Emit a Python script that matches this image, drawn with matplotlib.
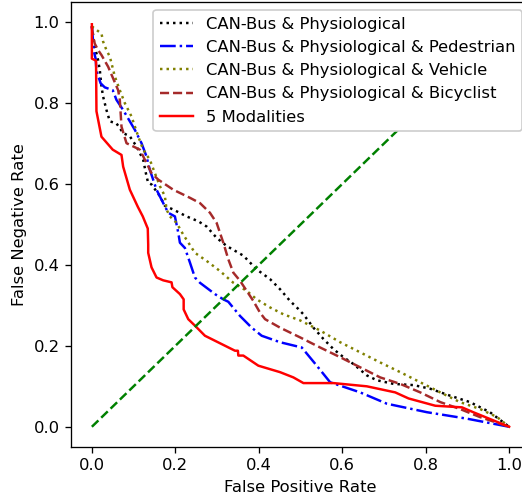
import matplotlib
matplotlib.use("Agg")
import matplotlib.pyplot as plt

# CAN-Bus & Physiological
fpr_cp = [0.0, 0.003, 0.007, 0.011, 0.015, 0.019, 0.023, 0.027, 0.035, 0.043, 0.059, 0.075, 0.091, 0.107,
          0.123, 0.131, 0.135, 0.143, 0.163, 0.175, 0.195, 0.227, 0.255, 0.275, 0.299, 0.323, 0.363,
          0.395, 0.427, 0.451, 0.475, 0.495, 0.507, 0.531, 0.555, 0.579, 0.603, 0.627, 0.659, 0.683,
          0.723, 0.771, 0.811, 0.858, 0.906, 0.954, 1.0]
fnr_cp = [0.99, 0.968, 0.94, 0.923, 0.906, 0.882, 0.841, 0.816, 0.783, 0.755, 0.75, 0.726, 0.718, 0.693,
          0.66, 0.619, 0.603, 0.599, 0.57, 0.546, 0.537, 0.52, 0.508, 0.495, 0.467, 0.447, 0.423,
          0.389, 0.365, 0.34, 0.311, 0.291, 0.278, 0.245, 0.217, 0.192, 0.172, 0.155, 0.127, 0.115,
          0.106, 0.103, 0.094, 0.077, 0.061, 0.036, 0.0]

# CAN-Bus & Physiological & Pedestrian
fpr_ped = [0.0, 0.005, 0.009, 0.011, 0.021, 0.031, 0.05, 0.059, 0.075, 0.103, 0.119, 0.131, 0.139, 0.155,
           0.171, 0.183, 0.199, 0.203, 0.207, 0.211, 0.223, 0.235, 0.247, 0.259, 0.295, 0.315, 0.327,
           0.355, 0.383, 0.407, 0.451, 0.503, 0.539, 0.571, 0.643, 0.707, 0.803, 0.899, 1.0]
fnr_ped = [0.99, 0.927, 0.91, 0.88, 0.849, 0.839, 0.832, 0.808, 0.783, 0.734, 0.701, 0.668, 0.635, 0.586,
           0.553, 0.529, 0.52, 0.5, 0.48, 0.455, 0.442, 0.406, 0.369, 0.356, 0.328, 0.315, 0.309,
           0.274, 0.245, 0.225, 0.209, 0.196, 0.151, 0.11, 0.085, 0.057, 0.036, 0.02, 0.0]

# CAN-Bus & Physiological & Vehicle
fpr_veh = [0.0, 0.007, 0.023, 0.027, 0.035, 0.043, 0.047, 0.055, 0.067, 0.079, 0.095, 0.111, 0.123, 0.139,
           0.151, 0.163, 0.175, 0.179, 0.187, 0.203, 0.219, 0.247, 0.275, 0.307, 0.339, 0.371, 0.395,
           0.427, 0.459, 0.499, 0.547, 0.595, 0.643, 0.691, 0.739, 0.787, 0.835, 0.882, 0.93, 0.971, 1.0]
fnr_veh = [0.99, 0.984, 0.972, 0.952, 0.931, 0.915, 0.899, 0.866, 0.832, 0.8, 0.767, 0.718, 0.685, 0.66,
           0.627, 0.595, 0.57, 0.537, 0.52, 0.504, 0.475, 0.43, 0.41, 0.385, 0.356, 0.336, 0.315,
           0.295, 0.278, 0.263, 0.238, 0.209, 0.184, 0.159, 0.135, 0.11, 0.085, 0.061, 0.044, 0.024, 0.0]

# CAN-Bus & Physiological & Bicyclist
fpr_bic = [0.0, 0.003, 0.007, 0.015, 0.023, 0.039, 0.051, 0.063, 0.067, 0.071, 0.083, 0.099, 0.115, 0.131,
           0.143, 0.159, 0.195, 0.235, 0.259, 0.283, 0.299, 0.315, 0.327, 0.339, 0.355, 0.371, 0.387,
           0.403, 0.415, 0.451, 0.499, 0.547, 0.595, 0.643, 0.691, 0.739, 0.787, 0.835, 0.882, 0.93, 1.0]
fnr_bic = [0.99, 0.964, 0.947, 0.931, 0.919, 0.89, 0.861, 0.832, 0.808, 0.742, 0.701, 0.693, 0.685, 0.652,
           0.627, 0.611, 0.586, 0.566, 0.553, 0.529, 0.504, 0.455, 0.414, 0.381, 0.361, 0.336, 0.311,
           0.282, 0.266, 0.245, 0.221, 0.196, 0.172, 0.147, 0.122, 0.106, 0.085, 0.061, 0.044, 0.024, 0.0]

# 5 Modalities
fpr_all = [0.0, 0.0, 0.01, 0.011, 0.023, 0.05, 0.071, 0.075, 0.091, 0.11, 0.122, 0.134, 0.135, 0.135,
           0.143, 0.155, 0.171, 0.191, 0.193, 0.211, 0.22, 0.22, 0.231, 0.247, 0.271, 0.343, 0.35,
           0.351, 0.363, 0.399, 0.451, 0.483, 0.507, 0.579, 0.659, 0.727, 0.759, 0.823, 0.887, 0.914, 1.0]
fnr_all = [0.995, 0.91, 0.905, 0.78, 0.717, 0.685, 0.672, 0.643, 0.586, 0.544, 0.52, 0.49, 0.45, 0.43,
           0.394, 0.369, 0.362, 0.357, 0.345, 0.328, 0.315, 0.29, 0.266, 0.25, 0.225, 0.188, 0.188,
           0.176, 0.176, 0.151, 0.135, 0.122, 0.108, 0.108, 0.1, 0.085, 0.07, 0.052, 0.048, 0.036, 0.0]

diag = [0.0, 1.0]

labels = ["CAN-Bus & Physiological", "CAN-Bus & Physiological & Pedestrian",
          "CAN-Bus & Physiological & Vehicle", "CAN-Bus & Physiological & Bicyclist",
          "5 Modalities"]

DPI = 118
fig = plt.figure(figsize=(522 / DPI, 499 / DPI), dpi=DPI)
ax = fig.add_axes([71 / 522, 52 / 499, (530 - 71) / 522, (447 - 2) / 499])

ax.plot(fpr_cp, fnr_cp, linestyle=":", color="black", lw=1.5, label=labels[0])
ax.plot(fpr_ped, fnr_ped, linestyle="-.", color="blue", lw=1.5, label=labels[1])
ax.plot(fpr_veh, fnr_veh, linestyle=":", color="olive", lw=1.5, label=labels[2])
ax.plot(fpr_bic, fnr_bic, linestyle="--", color="brown", lw=1.5, label=labels[3])
ax.plot(fpr_all, fnr_all, linestyle="-", color="red", lw=1.5, label=labels[4])
ax.plot(diag, diag, linestyle="--", color="green", lw=1.5)

ax.set_xlabel("False Positive Rate")
ax.set_ylabel("False Negative Rate")
ax.set_xticks([0.0, 0.2, 0.4, 0.6, 0.8, 1.0])
ax.set_yticks([0.0, 0.2, 0.4, 0.6, 0.8, 1.0])
ax.legend(loc="upper right", framealpha=1.0)

fig.savefig("out.png", dpi=DPI)
